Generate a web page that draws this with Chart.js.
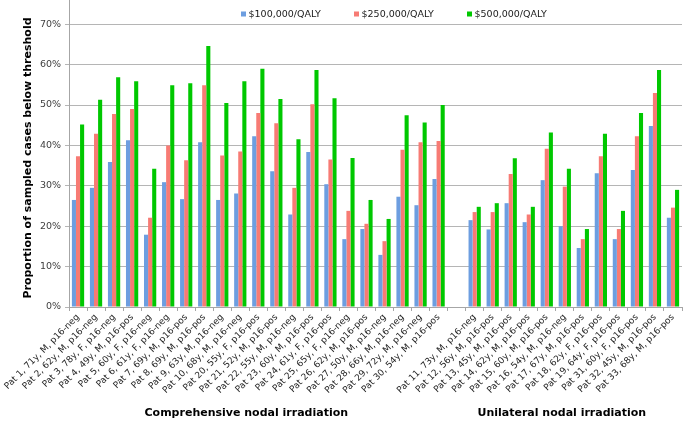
<!DOCTYPE html>
<html><head><meta charset="utf-8">
<script src="https://cdn.jsdelivr.net/npm/chart.js@4"></script>
<style>html,body{margin:0;padding:0;background:#fff}#wrap{width:685px;height:421px;position:relative}</style>
</head><body><div id="wrap"><canvas id="c"></canvas></div>
<script>
const categories = [
  'Pat 1, 71y, M, p16-neg','Pat 2, 62y, M, p16-neg','Pat 3, 78y, F, p16-neg','Pat 4, 49y, M, p16-pos',
  'Pat 5, 60y, F, p16-neg','Pat 6, 61y, F, p16-neg','Pat 7, 69y, M, p16-pos','Pat 8, 69y, M, p16-pos',
  'Pat 9, 63y, M, p16-neg','Pat 10, 68y, M, p16-neg','Pat 20, 55y, F, p16-pos','Pat 21, 52y, M, p16-pos',
  'Pat 22, 55y, M, p16-neg','Pat 23, 60y, M, p16-pos','Pat 24, 61y, F, p16-pos','Pat 25, 65y, F, p16-neg',
  'Pat 26, 62y, M, p16-pos','Pat 27, 50y, M, p16-neg','Pat 28, 66y, M, p16-neg','Pat 29, 72y, M, p16-neg',
  'Pat 30, 54y, M, p16-pos','',
  'Pat 11, 73y, M, p16-neg','Pat 12, 56y, M, p16-pos','Pat 13, 45y, M, p16-pos','Pat 14, 62y, M, p16-pos',
  'Pat 15, 60y, M, p16-pos','Pat 16, 54y, M, p16-neg','Pat 17, 67y, M, p16-pos','Pat 18, 62y, F, p16-pos',
  'Pat 19, 64y, F, p16-pos','Pat 31, 60y, F, p16-pos','Pat 32, 45y, M, p16-pos','Pat 33, 68y, M, p16-pos'
];
const series100 = [26.5,29.5,35.9,41.3,17.9,30.9,26.7,40.8,26.5,28.1,42.3,33.6,22.9,38.4,30.4,16.8,19.3,12.9,27.3,25.2,31.7,null,
  21.5,19.2,25.7,21.0,31.4,20.0,14.6,33.1,16.8,33.9,44.8,22.1];
const series250 = [37.3,42.9,47.8,49.0,22.1,40.0,36.3,54.9,37.5,38.5,48.0,45.5,29.5,50.2,36.5,23.8,20.6,16.3,38.9,40.8,41.1,null,
  23.5,23.5,32.9,22.9,39.2,29.8,16.8,37.3,19.3,42.3,53.0,24.6];
const series500 = [45.2,51.3,56.9,55.9,34.2,54.9,55.4,64.6,50.5,55.9,59.0,51.5,41.5,58.7,51.7,36.9,26.5,21.8,47.5,45.7,50.0,null,
  24.8,25.7,36.8,24.8,43.2,34.2,19.3,42.9,23.8,48.0,58.7,29.0];
const seriesNames = ['$100,000/QALY','$250,000/QALY','$500,000/QALY'];
const yTickValues = [0,10,20,30,40,50,60,70];
const groupNames = ['Comprehensive nodal irradiation','Unilateral nodal irradiation'];
const groupFrom = [0,22];
const groupTo = [20,33];

const colors = ['#6d9ee0','#f77b74','#00c800'];

const extras = {
  id: 'extras',
  afterDraw(chart) {
    const ctx = chart.ctx, xs = chart.scales.x;
    ctx.save();
    // legend
    ctx.font = '9.5px "DejaVu Sans"';
    ctx.textBaseline = 'middle';
    ctx.textAlign = 'left';
    const legendX = [241, 354, 467];
    chart.data.datasets.forEach((ds, i) => {
      ctx.fillStyle = ds.backgroundColor;
      ctx.fillRect(legendX[i], 11.5, 5, 5);
      ctx.fillStyle = '#1a1a1a';
      ctx.fillText(ds.label, legendX[i] + 7.5, 14.5);
    });
    // y title
    ctx.save();
    ctx.translate(28, 158);
    ctx.rotate(-Math.PI / 2);
    ctx.font = 'bold 11px "DejaVu Sans"';
    ctx.textAlign = 'center';
    ctx.fillStyle = '#000';
    ctx.fillText('Proportion of sampled cases below threshold', 0, 0);
    ctx.restore();
    // group labels
    ctx.font = 'bold 11px "DejaVu Sans"';
    ctx.textAlign = 'center';
    ctx.fillStyle = '#000';
    groupNames.forEach((g, i) => {
      const cx = (xs.getPixelForValue(groupFrom[i]) + xs.getPixelForValue(groupTo[i])) / 2 - 12;
      ctx.fillText(g, cx, 413);
    });
    ctx.restore();
  }
};

new Chart(document.getElementById('c'), {
  type: 'bar',
  data: {
    labels: categories,
    datasets: [
      { label: seriesNames[0], data: series100, backgroundColor: colors[0] },
      { label: seriesNames[1], data: series250, backgroundColor: colors[1] },
      { label: seriesNames[2], data: series500, backgroundColor: colors[2] }
    ]
  },
  options: {
    responsive: true,
    maintainAspectRatio: false,
    animation: false,
    devicePixelRatio: 1,
    layout: { padding: { left: 0, right: 3, top: 0, bottom: 0 } },
    datasets: { bar: { barPercentage: 1.0, categoryPercentage: 0.68 } },
    plugins: { legend: { display: false }, tooltip: { enabled: false } },
    scales: {
      x: {
        grid: { drawOnChartArea: false, drawTicks: true, tickLength: 4, color: '#a6a6a6', offset: true },
        border: { color: '#a6a6a6' },
        ticks: {
          autoSkip: false, maxRotation: 45, minRotation: 45, padding: 1,
          font: { family: 'DejaVu Sans', size: 9 }, color: '#262626'
        },
        afterFit(scale) { scale.height = 114; scale.paddingLeft = 0; scale.paddingRight = 0; }
      },
      y: {
        min: 0, max: 76,
        grid: { color: '#b5b5b5', tickLength: 4 },
        border: { color: '#a6a6a6' },
        ticks: {
          stepSize: 10, padding: 4,
          font: { family: 'DejaVu Sans', size: 9.5 }, color: '#404040',
          callback: v => v + '%'
        },
        afterBuildTicks(scale) { scale.ticks = yTickValues.map(v => ({ value: v })); },
        afterFit(scale) { scale.width = 69; scale.paddingTop = 0; scale.paddingBottom = 0; }
      }
    }
  },
  plugins: [extras]
});
</script>
</body></html>
